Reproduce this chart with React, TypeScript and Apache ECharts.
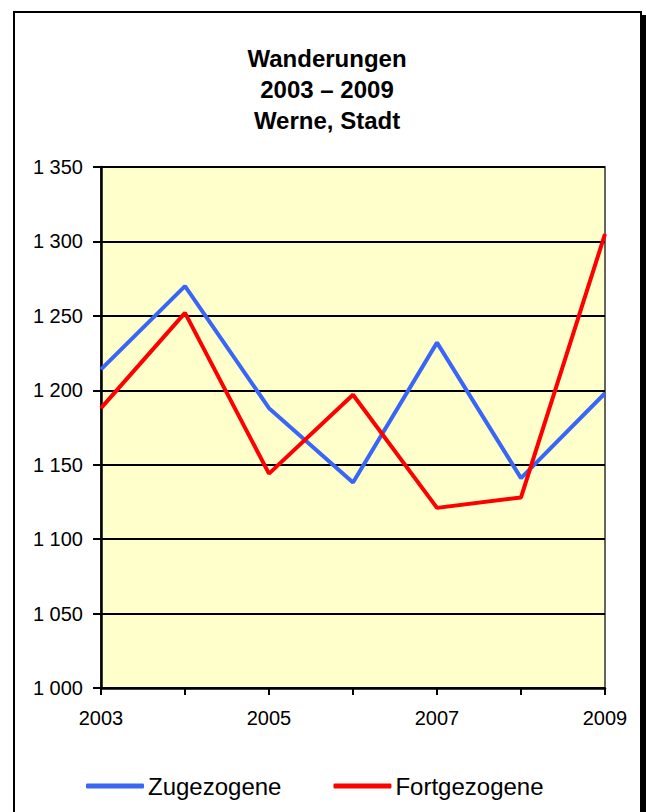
import React, { useEffect, useRef } from "react";
import * as echarts from "echarts";

const years = ["2003", "2004", "2005", "2006", "2007", "2008", "2009"];
const zugezogene = [1214, 1270, 1188, 1138, 1232, 1141, 1198];
const fortgezogene = [1188, 1252, 1144, 1197, 1121, 1128, 1305];
const titleLines = ["Wanderungen", "2003 – 2009", "Werne, Stadt"];
const seriesNames = ["Zugezogene", "Fortgezogene"];

const FONT = "Arial, 'Liberation Sans', sans-serif";

const formatTick = (v: number) => {
  const s = String(Math.round(v));
  return s.replace(/\B(?=(\d{3})+(?!\d))/g, " ");
};

export default function App() {
  const ref = useRef<HTMLDivElement>(null);

  useEffect(() => {
    if (!ref.current) return;
    const chart = echarts.init(ref.current, null, { renderer: "svg" });
    chart.setOption({
      animation: false,
      backgroundColor: "transparent",
      title: {
        text: titleLines.join("\n"),
        left: 327,
        textAlign: "center",
        top: 43,
        padding: 0,
        textStyle: {
          fontFamily: FONT,
          fontSize: 24,
          fontWeight: "bold",
          color: "#000",
          lineHeight: 31,
        },
      },
      legend: {
        data: seriesNames,
        left: 86,
        top: 774,
        padding: 0,
        icon: "roundRect",
        itemWidth: 58,
        itemHeight: 5,
        itemGap: 52,
        textStyle: { fontFamily: FONT, fontSize: 24, color: "#000", padding: [0, 0, 0, -1] },
      },
      grid: {
        left: 101,
        top: 167,
        right: 41,
        bottom: 124,
        show: true,
        backgroundColor: "#FFFFCC",
        borderColor: "#333",
        borderWidth: 1.5,
      },
      xAxis: {
        type: "category",
        data: years,
        boundaryGap: false,
        axisLine: { lineStyle: { color: "#000", width: 2.5 } },
        axisTick: { show: true, length: 7, interval: 0, lineStyle: { color: "#000", width: 2 } },
        axisLabel: {
          interval: 1,
          margin: 20,
          fontFamily: FONT,
          fontSize: 20,
          color: "#000",
        },
        splitLine: { show: false },
      },
      yAxis: {
        type: "value",
        min: 1000,
        max: 1350,
        interval: 50,
        axisLine: { show: true, lineStyle: { color: "#000", width: 2.5 } },
        axisTick: { show: true, length: 8, lineStyle: { color: "#000", width: 2 } },
        axisLabel: {
          margin: 18,
          fontFamily: FONT,
          fontSize: 20,
          color: "#000",
          formatter: formatTick,
        },
        splitLine: { show: true, lineStyle: { color: "#000", width: 2 } },
      },
      series: [
        {
          name: seriesNames[0],
          type: "line",
          data: zugezogene,
          symbol: "none",
          lineStyle: { color: "#3A66F5", width: 4 },
          itemStyle: { color: "#3A66F5" },
          z: 3,
        },
        {
          name: seriesNames[1],
          type: "line",
          data: fortgezogene,
          symbol: "none",
          lineStyle: { color: "#FF0000", width: 4 },
          itemStyle: { color: "#FF0000" },
          z: 4,
        },
      ],
    });
    return () => chart.dispose();
  }, []);

  return (
    <div style={{ position: "fixed", left: 0, top: 0, width: 646, height: 812, background: "#fff", overflow: "hidden" }}>
      <div
        style={{
          position: "absolute",
          left: 13,
          top: 11,
          width: 625,
          height: 900,
          border: "2px solid #000",
          boxShadow: "4px 4px 0 #000",
          background: "#fff",
        }}
      />
      <div ref={ref} style={{ position: "absolute", left: 0, top: 0, width: 646, height: 812 }} />
    </div>
  );
}
